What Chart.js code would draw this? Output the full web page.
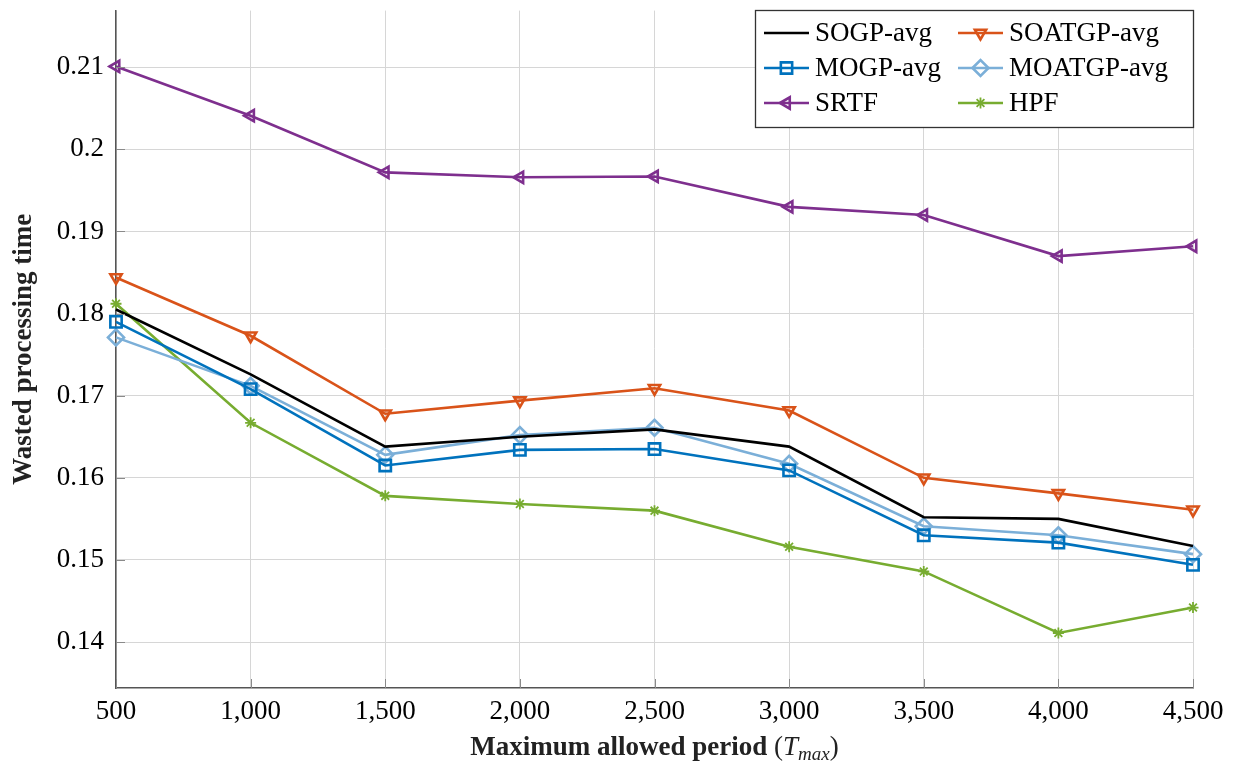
<!DOCTYPE html>
<html>
<head>
<meta charset="utf-8">
<script src="https://cdn.jsdelivr.net/npm/chart.js"></script>
<style>
  html, body { margin: 0; padding: 0; background: #fff; }
  #wrap { width: 1239px; height: 767px; }
</style>
</head>
<body>
<div id="wrap"><canvas id="chart"></canvas></div>
<script>
// values
const periods = [500, 1000, 1500, 2000, 2500, 3000, 3500, 4000, 4500];
const sogpAvg   = [0.1805, 0.1726, 0.1638, 0.1650, 0.1659, 0.1638, 0.1552, 0.1550, 0.1517];
const soatgpAvg = [0.1844, 0.1773, 0.1678, 0.1694, 0.1709, 0.1682, 0.1600, 0.1581, 0.1561];
const mogpAvg   = [0.1790, 0.1708, 0.1615, 0.1634, 0.1635, 0.1609, 0.1530, 0.1521, 0.1494];
const moatgpAvg = [0.1771, 0.1712, 0.1628, 0.1652, 0.1661, 0.1617, 0.1541, 0.1530, 0.1507];
const srtf      = [0.2101, 0.2041, 0.1972, 0.1966, 0.1967, 0.1930, 0.1920, 0.1870, 0.1882];
const hpf       = [0.1812, 0.1667, 0.1578, 0.1568, 0.1560, 0.1516, 0.1486, 0.1411, 0.1442];
const yTicks = [0.14, 0.15, 0.16, 0.17, 0.18, 0.19, 0.20, 0.21];

const FONT = "'Liberation Serif', 'DejaVu Serif', serif";

function series(label, values, color, style, radius, rotation, markWidth) {
  return {
    label: label,
    data: periods.map((p, i) => ({ x: p, y: values[i] })),
    borderColor: color,
    backgroundColor: color,
    borderWidth: 2.6,
    pointStyle: style,
    pointRadius: style ? radius : 0,
    pointRotation: rotation || 0,
    pointBorderColor: color,
    pointBackgroundColor: 'rgba(255,255,255,0)',
    pointBorderWidth: markWidth || 2.6,
    tension: 0,
    clip: false
  };
}

const datasets = [
  series('SOGP-avg', sogpAvg, '#000000', false, 0),
  series('SOATGP-avg', soatgpAvg, '#D95319', 'triangle', 6.5, 180),
  series('MOGP-avg', mogpAvg, '#0072BD', 'rect', 8),
  series('MOATGP-avg', moatgpAvg, '#7BAFD8', 'rectRot', 8),
  series('SRTF', srtf, '#7E2F8E', 'triangle', 6.5, 270),
  series('HPF', hpf, '#77AC30', 'star', 5.5, 0, 1.8)
];

// legend in two columns inside a box at top right
const boxLegend = {
  id: 'boxLegend',
  afterDraw(chart) {
    const ctx = chart.ctx;
    const x0 = 755, y0 = 10, w = 438, h = 117;
    ctx.save();
    ctx.fillStyle = '#fff';
    ctx.fillRect(x0, y0, w, h);
    ctx.strokeStyle = '#333';
    ctx.lineWidth = 1.3;
    ctx.strokeRect(x0 + 0.5, y0 + 0.5, w, h);
    const cols = [764, 958];
    const rows = [33, 68, 103];
    ctx.font = '27px ' + FONT;
    ctx.textBaseline = 'middle';
    chart.data.datasets.forEach((ds, i) => {
      const lx = cols[i % 2];
      const ly = rows[Math.floor(i / 2)];
      ctx.strokeStyle = ds.borderColor;
      ctx.lineWidth = ds.borderWidth;
      ctx.beginPath();
      ctx.moveTo(lx, ly);
      ctx.lineTo(lx + 45, ly);
      ctx.stroke();
      if (ds.pointStyle && Chart.helpers && Chart.helpers.drawPoint) {
        ctx.fillStyle = ds.pointBackgroundColor;
        ctx.strokeStyle = ds.pointBorderColor;
        ctx.lineWidth = ds.pointBorderWidth;
        Chart.helpers.drawPoint(ctx, {
          pointStyle: ds.pointStyle,
          rotation: ds.pointRotation,
          radius: ds.pointRadius,
          borderWidth: ds.pointBorderWidth
        }, lx + 22.5, ly);
      }
      ctx.fillStyle = '#000';
      ctx.fillText(ds.label, lx + 51, ly + 1);
    });
    ctx.restore();
  }
};

// x axis title with mixed weights and subscript, plus inward tick marks
const axisExtras = {
  id: 'axisExtras',
  afterDraw(chart) {
    const ctx = chart.ctx;
    const a = chart.chartArea;
    const xs = chart.scales.x, ys = chart.scales.y;
    ctx.save();
    ctx.strokeStyle = '#8a8a8a';
    ctx.lineWidth = 1;
    yTicks.forEach(v => {
      const y = Math.round(ys.getPixelForValue(v)) + 0.5;
      ctx.beginPath(); ctx.moveTo(a.left, y); ctx.lineTo(a.left + 9, y); ctx.stroke();
    });
    periods.forEach(v => {
      const x = Math.round(xs.getPixelForValue(v)) + 0.5;
      ctx.beginPath(); ctx.moveTo(x, a.bottom); ctx.lineTo(x, a.bottom - 9); ctx.stroke();
    });

    const parts = [
      { t: 'Maximum allowed period ', f: 'bold 27px ' + FONT, dy: 0 },
      { t: '(', f: '27px ' + FONT, dy: 0 },
      { t: 'T', f: 'italic 27px ' + FONT, dy: 0 },
      { t: 'max', f: 'italic 19px ' + FONT, dy: 5 },
      { t: ')', f: '27px ' + FONT, dy: 0 }
    ];
    let total = 0;
    parts.forEach(p => { ctx.font = p.f; p.w = ctx.measureText(p.t).width; total += p.w; });
    let x = (a.left + a.right) / 2 - total / 2;
    const base = 755;
    ctx.fillStyle = '#222';
    ctx.textBaseline = 'alphabetic';
    parts.forEach(p => {
      ctx.font = p.f;
      ctx.fillText(p.t, x, base + p.dy);
      x += p.w;
    });
    ctx.restore();
  }
};

new Chart(document.getElementById('chart'), {
  type: 'line',
  data: { datasets: datasets },
  options: {
    responsive: true,
    maintainAspectRatio: false,
    animation: false,
    layout: { padding: { top: 10, right: 46, left: 0, bottom: 0 } },
    plugins: {
      legend: { display: false },
      tooltip: { enabled: false }
    },
    scales: {
      x: {
        type: 'linear',
        min: 500,
        max: 4500,
        afterBuildTicks: s => { s.ticks = periods.map(v => ({ value: v })); },
        afterFit: s => { s.height = 79; s.paddingLeft = 0; s.paddingRight = 0; },
        grid: { color: '#d6d6d6', lineWidth: 1, drawTicks: false },
        border: { color: '#555', width: 1.5 },
        ticks: {
          padding: 8,
          color: '#000',
          font: { family: FONT, size: 27 },
          maxRotation: 0,
          callback: v => v.toLocaleString('en-US')
        }
      },
      y: {
        min: 0.1344,
        max: 0.2169,
        afterBuildTicks: s => { s.ticks = yTicks.map(v => ({ value: v })); },
        afterFit: s => { s.width = 116; s.paddingTop = 0; s.paddingBottom = 0; },
        grid: { color: '#d6d6d6', lineWidth: 1, drawTicks: false },
        border: { color: '#555', width: 1.5 },
        ticks: {
          padding: 12,
          color: '#000',
          font: { family: FONT, size: 27 },
          callback: v => String(Number(v.toFixed(2)))
        },
        title: {
          display: true,
          text: 'Wasted processing time',
          color: '#222',
          font: { family: FONT, size: 27, weight: 'bold' },
          padding: { top: 8, bottom: 0 }
        }
      }
    }
  },
  plugins: [boxLegend, axisExtras]
});
</script>
</body>
</html>
